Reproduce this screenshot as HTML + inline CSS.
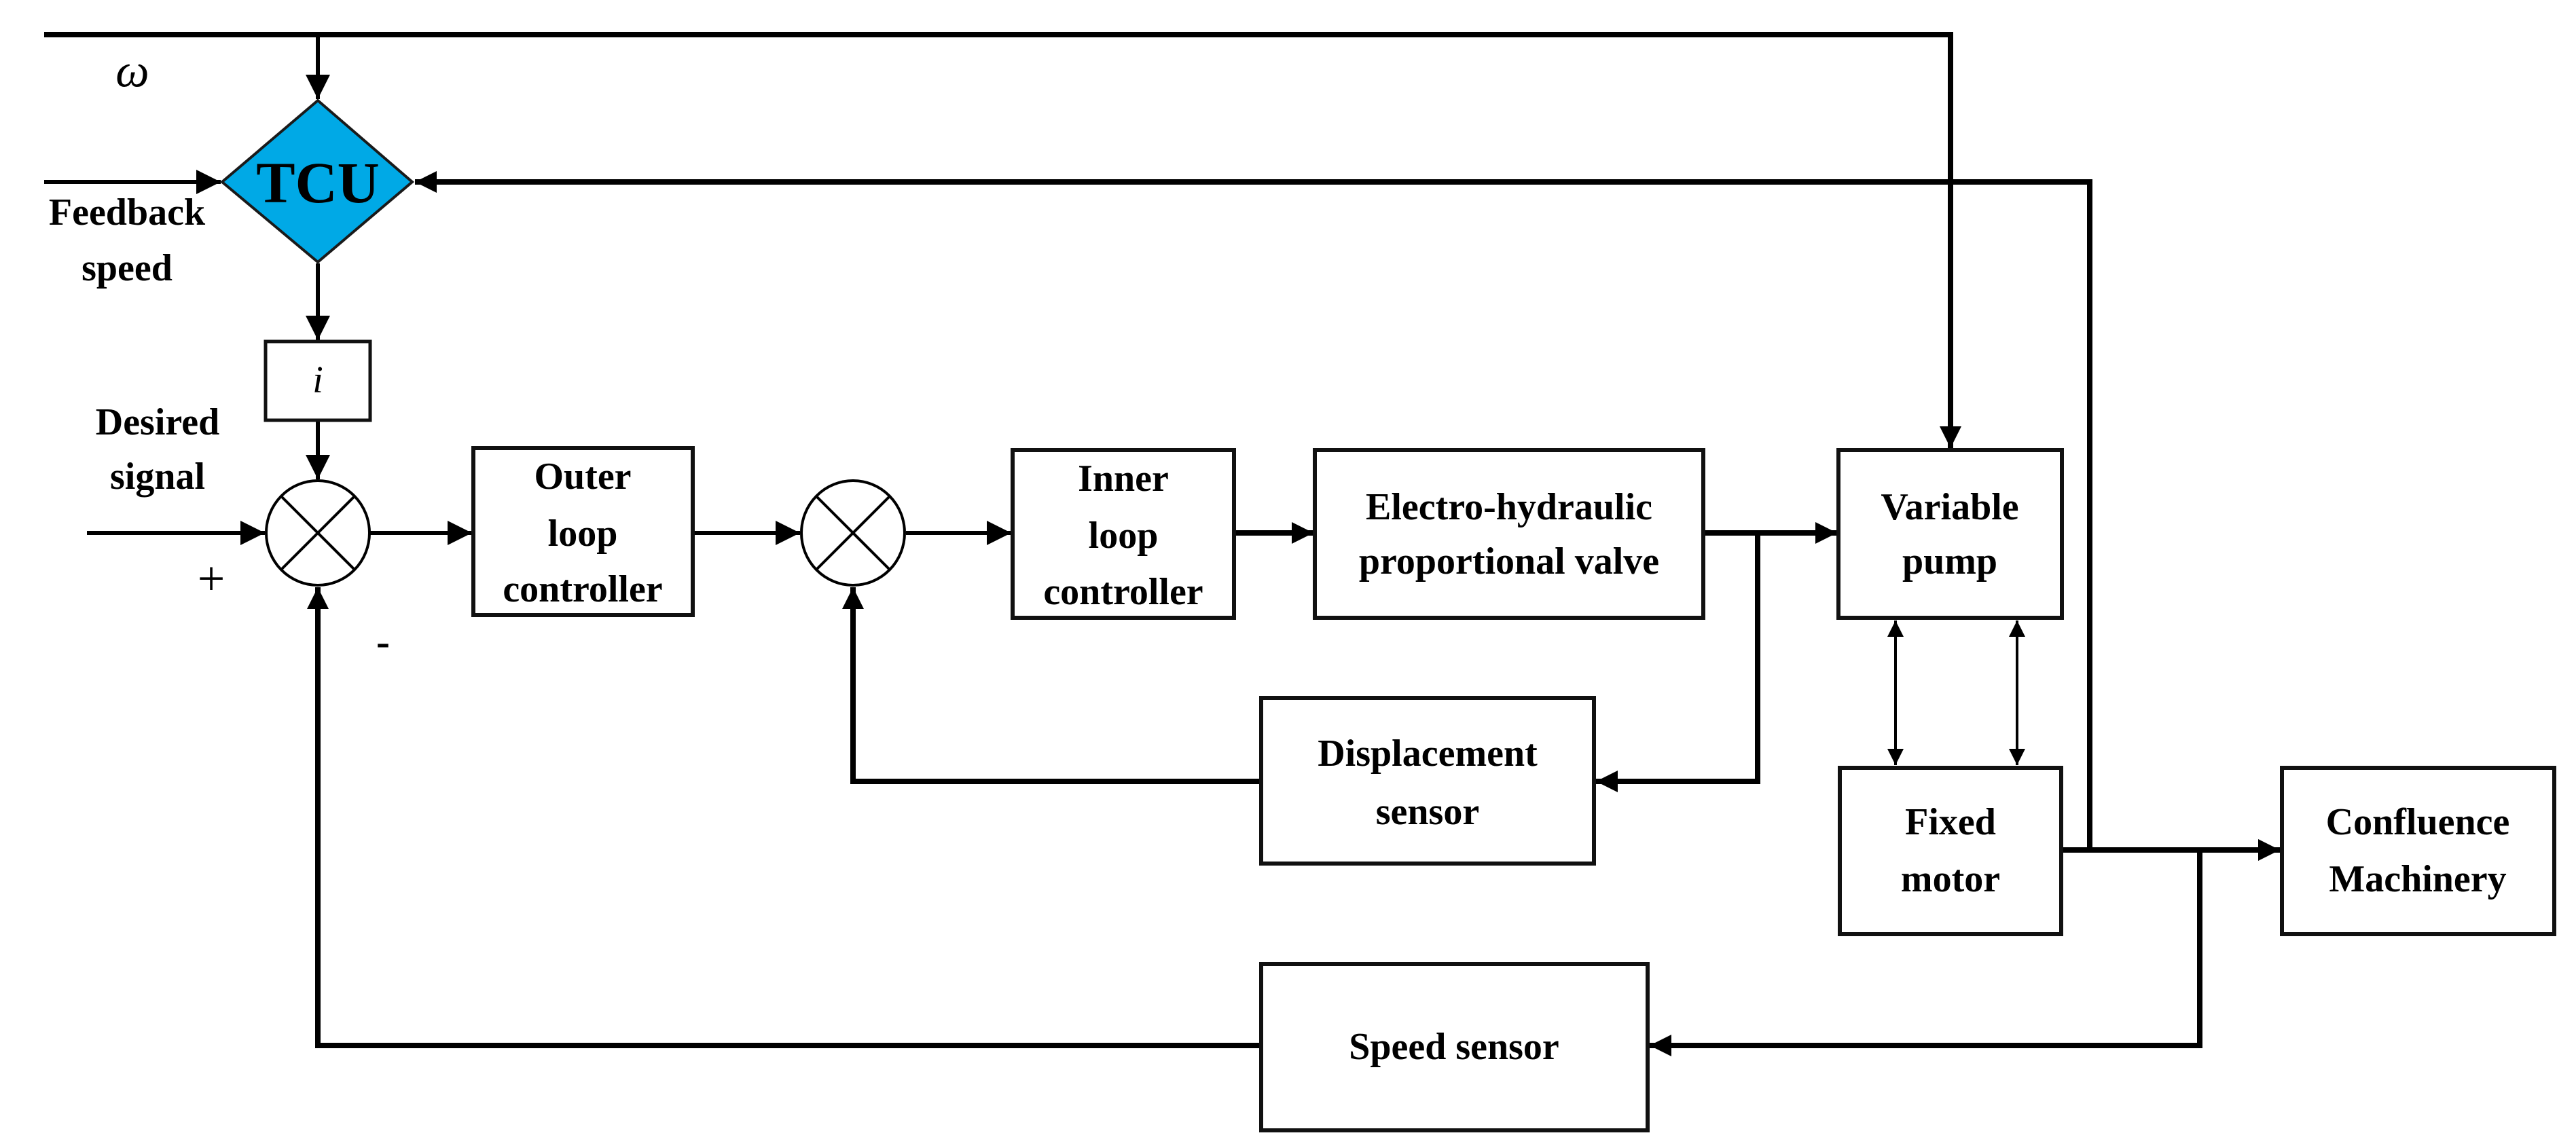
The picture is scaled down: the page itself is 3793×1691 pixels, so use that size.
<!DOCTYPE html>
<html><head><meta charset="utf-8"><style>html,body{margin:0;padding:0;background:#fff}svg{display:block}</style></head>
<body>
<svg width="3793" height="1691" viewBox="0 0 3793 1691" xmlns="http://www.w3.org/2000/svg" font-family="Liberation Serif, serif" font-weight="bold">
<defs>
<marker id="a" viewBox="0 0 10 10" refX="10" refY="5" markerWidth="4" markerHeight="4" orient="auto-start-reverse" markerUnits="strokeWidth"><path d="M0,0 L10,5 L0,10 Z" fill="#000"/></marker>
<marker id="b" viewBox="0 0 10 10" refX="10" refY="5" markerWidth="6" markerHeight="6" orient="auto-start-reverse" markerUnits="strokeWidth"><path d="M0,0 L10,5 L0,10 Z" fill="#000"/></marker>
</defs>
<g stroke="#000" fill="none" stroke-width="8">
<!-- top line -->
<polyline points="65,51 2872,51 2872,660" marker-end="url(#a)"/>
<line x1="468" y1="51" x2="468" y2="146" stroke-width="6" marker-end="url(#b)"/>
<!-- feedback speed -->
<line x1="65" y1="268" x2="325" y2="268" stroke-width="6" marker-end="url(#b)"/>
<!-- right feedback to TCU -->
<polyline points="3077,1252 3077,268 611,268" marker-end="url(#a)"/>
<!-- TCU to i -->
<line x1="468" y1="388" x2="468" y2="501" stroke-width="6" marker-end="url(#b)"/>
<line x1="468" y1="619" x2="468" y2="706" stroke-width="6" marker-end="url(#b)"/>
<!-- input -->
<line x1="128" y1="785" x2="390" y2="785" stroke-width="6" marker-end="url(#b)"/>
<line x1="545" y1="785" x2="695" y2="785" stroke-width="6" marker-end="url(#b)"/>
<line x1="1020" y1="785" x2="1178" y2="785" stroke-width="6" marker-end="url(#b)"/>
<line x1="1334" y1="785" x2="1489" y2="785" stroke-width="6" marker-end="url(#b)"/>
<line x1="1817" y1="785" x2="1934" y2="785" marker-end="url(#a)"/>
<line x1="2508" y1="785" x2="2705" y2="785" marker-end="url(#a)"/>
<polyline points="2588,785 2588,1151 2350,1151" marker-end="url(#a)"/>
<polyline points="1857,1151 1256,1151 1256,865" marker-end="url(#a)"/>
<!-- bidi -->
<line x1="2791" y1="914" x2="2791" y2="1127" stroke-width="4" marker-start="url(#b)" marker-end="url(#b)"/>
<line x1="2970" y1="914" x2="2970" y2="1127" stroke-width="4" marker-start="url(#b)" marker-end="url(#b)"/>
<!-- motor output -->
<line x1="3035" y1="1252" x2="3357" y2="1252" marker-end="url(#a)"/>
<polyline points="3239,1252 3239,1540 2429,1540" marker-end="url(#a)"/>
<polyline points="1857,1540 468,1540 468,865" marker-end="url(#a)"/>
</g>
<!-- TCU -->
<polygon points="468,148 607,268 468,386 327,268" fill="#00a9e6" stroke="#1a1a1a" stroke-width="4"/>
<text x="468" y="298" font-size="86" text-anchor="middle">TCU</text>
<!-- summing junctions -->
<g stroke="#000" stroke-width="4" fill="#fff">
<ellipse cx="468" cy="785" rx="76" ry="77"/>
<ellipse cx="1256" cy="785" rx="76" ry="77"/>
</g>
<g stroke="#000" stroke-width="4">
<line x1="414" y1="731" x2="522" y2="839"/><line x1="522" y1="731" x2="414" y2="839"/>
<line x1="1202" y1="731" x2="1310" y2="839"/><line x1="1310" y1="731" x2="1202" y2="839"/>
</g>
<!-- boxes -->
<g stroke="#111" stroke-width="6" fill="#fff">
<rect x="391" y="503" width="154" height="116" stroke-width="5"/>
<rect x="697" y="660" width="323" height="246"/>
<rect x="1491" y="663" width="326" height="247"/>
<rect x="1936" y="663" width="572" height="247"/>
<rect x="2707" y="663" width="329" height="247"/>
<rect x="1857" y="1028" width="490" height="244"/>
<rect x="2709" y="1131" width="326" height="245"/>
<rect x="3360" y="1131" width="401" height="245"/>
<rect x="1857" y="1420" width="569" height="245"/>
</g>
<g font-size="56" text-anchor="middle" fill="#000" dominant-baseline="central">
<text x="468" y="560" font-style="italic" font-weight="normal">i</text>
<text x="858" y="702">Outer</text><text x="858" y="786">loop</text><text x="858" y="868">controller</text>
<text x="1654" y="705">Inner</text><text x="1654" y="789">loop</text><text x="1654" y="872">controller</text>
<text x="2222" y="747">Electro-hydraulic</text><text x="2222" y="827">proportional valve</text>
<text x="2871" y="747">Variable</text><text x="2871" y="827">pump</text>
<text x="2102" y="1110">Displacement</text><text x="2102" y="1196">sensor</text>
<text x="2872" y="1211">Fixed</text><text x="2872" y="1295">motor</text>
<text x="3560" y="1211">Confluence</text><text x="3560" y="1295">Machinery</text>
<text x="2141" y="1542">Speed sensor</text>
<text x="232" y="622">Desired</text><text x="232" y="702">signal</text>
<text x="187" y="313">Feedback</text><text x="187" y="395">speed</text>
<text x="311" y="852" font-size="72" font-weight="normal">+</text>
<text x="564" y="945" font-size="60">-</text>
<text x="195" y="105" font-size="70" font-style="italic" font-weight="normal">ω</text>
</g>
</svg>
</body></html>
